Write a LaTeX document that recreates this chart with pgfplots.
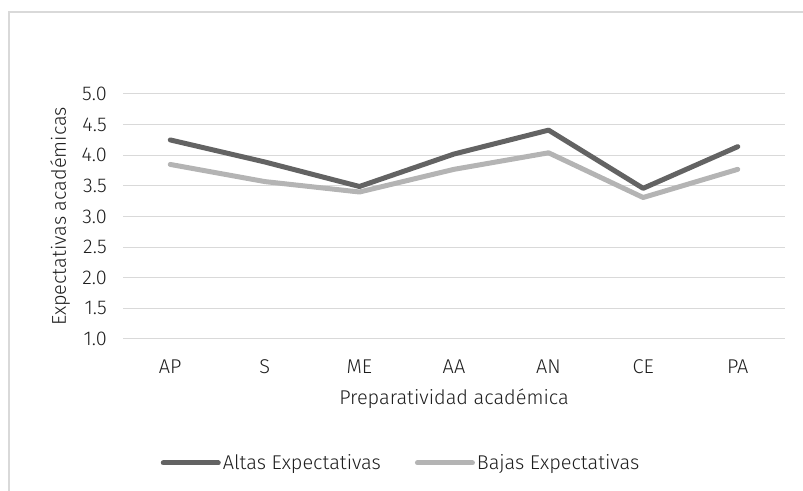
\documentclass[border=0pt]{standalone}
\usepackage{fontspec}
\setmainfont{Fira Sans}[UprightFont={* Light}]
\usepackage{pgfplots}
\pgfplotsset{compat=1.18}
\definecolor{altas}{HTML}{636363}
\definecolor{bajas}{HTML}{B4B4B4}
\definecolor{gridc}{HTML}{D9D9D9}
\definecolor{txt}{HTML}{1E1E1E}
\begin{document}
\begin{tikzpicture}
\path[use as bounding box] (0,0) rectangle (803bp,491bp);
\draw[gridc, line width=1.3bp] (9bp,0) -- (9bp,479bp) -- (803bp,479bp);
\begin{axis}[
  at={(123bp,152bp)}, anchor=south west,
  width=662bp, height=245bp, scale only axis,
  xmin=-0.5, xmax=6.5, ymin=1, ymax=5,
  xtick=data, xticklabels={AP,S,ME,AA,AN,CE,PA},
  ytick={1,1.5,2,2.5,3,3.5,4,4.5,5},
  /pgf/number format/fixed, /pgf/number format/fixed zerofill,
  /pgf/number format/precision=1, /pgf/number format/assume math mode=true,
  ymajorgrids, grid style={gridc, line width=1bp},
  axis line style={draw=none}, major tick length=0pt,
  font=\fontsize{20}{24}\selectfont,
  yticklabel style={anchor=east, inner sep=0pt, xshift=-16bp, text=txt},
  xticklabel style={anchor=center, inner sep=0pt, yshift=-28bp, text=txt},
  xlabel={Preparatividad académica},
  ylabel={Expectativas académicas},
  xlabel style={at={(axis description cs:0.5,-0.245)}, anchor=center, text=txt},
  ylabel style={at={(axis description cs:-0.095,0.5)}, anchor=center, text=txt},
  legend columns=2,
  legend style={at={(axis description cs:0.42,-0.506)}, anchor=center, draw=none, fill=none,
    font=\fontsize{20}{24}\selectfont, text=txt,
    /tikz/every even column/.append style={column sep=32bp}},
  legend cell align=left,
  legend image code/.code={\draw[#1, line cap=round] (2.5bp,0bp) -- (47bp,0bp); \path (0bp,0bp) -- (55bp,0bp);},
]
\addplot[altas, line width=5bp, line cap=round, line join=round] coordinates {
(0,4.25) (1,3.89) (2,3.49) (3,4.02) (4,4.41) (5,3.46) (6,4.14)};
\addlegendentry{Altas Expectativas}
\addplot[bajas, line width=5bp, line cap=round, line join=round] coordinates {
(0,3.85) (1,3.57) (2,3.40) (3,3.77) (4,4.04) (5,3.31) (6,3.77)};
\addlegendentry{Bajas Expectativas}
\end{axis}
\end{tikzpicture}
\end{document}
